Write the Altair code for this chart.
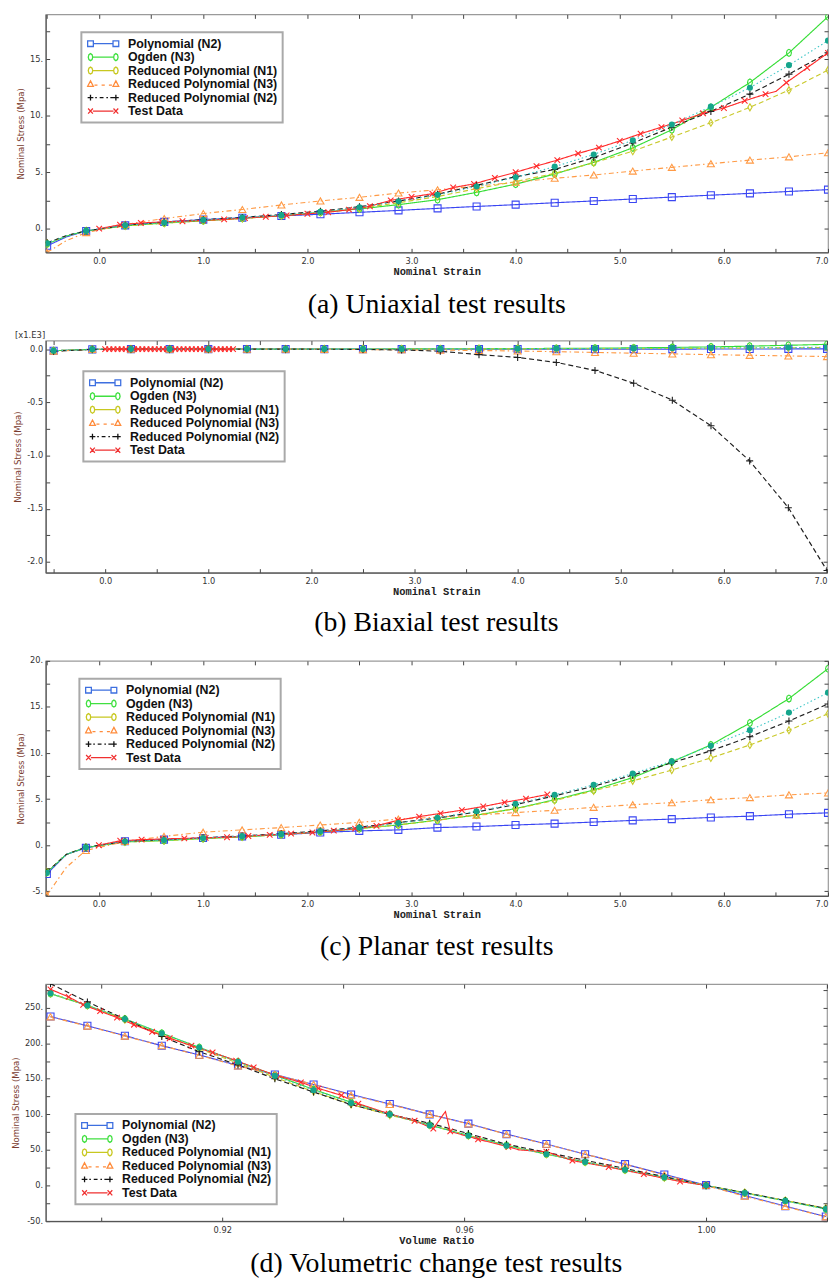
import altair as alt
import pandas as pd

SERIES = ["Polynomial (N2)", "Ogden (N3)", "Reduced Polynomial (N1)",
          "Reduced Polynomial (N3)", "Reduced Polynomial (N2)", "Test Data"]
TEAL_NAME = "Unlabelled fit"
B_NOTE = ["[x1.E3]"]

# ---------------- (a) Uniaxial ----------------
XA = [-0.5, -0.3125, -0.125, 0.25, 0.625, 1.0, 1.375, 1.75, 2.125, 2.5, 2.875,
      3.25, 3.625, 4.0, 4.375, 4.75, 5.125, 5.5, 5.875, 6.25, 6.625, 7.0]
MA = [1, 0, 1, 1, 1, 1, 1, 1, 1, 1, 1, 1, 1, 1, 1, 1, 1, 1, 1, 1, 1, 1]
A_POLY = [-1.52, -0.72, -0.2, 0.29, 0.6, 0.8, 0.97, 1.13, 1.28, 1.45, 1.62,
          1.8, 1.97, 2.13, 2.3, 2.46, 2.63, 2.8, 2.97, 3.13, 3.3, 3.46]
A_OGDEN = [-1.35, -0.65, -0.2, 0.25, 0.5, 0.7, 0.92, 1.15, 1.45, 1.75, 2.13,
           2.57, 3.22, 3.95, 4.85, 5.88, 7.17, 8.77, 10.76, 12.96, 15.59, 18.8]
A_RP1 = [-1.3, -0.62, -0.2, 0.25, 0.48, 0.7, 0.9, 1.15, 1.45, 1.8, 2.3,
         2.85, 3.55, 4.18, 4.9, 5.85, 6.87, 8.13, 9.39, 10.76, 12.28, 14.06]
A_RP3 = [-2.1, -1.05, -0.35, 0.38, 0.9, 1.34, 1.7, 2.1, 2.46, 2.78, 3.16,
         3.45, 3.77, 4.12, 4.47, 4.76, 5.11, 5.44, 5.76, 6.08, 6.37, 6.73]
A_RP2 = [-1.25, -0.6, -0.2, 0.32, 0.58, 0.8, 1.0, 1.25, 1.55, 1.95, 2.45,
         3.05, 3.85, 4.6, 5.25, 6.3, 7.6, 9.0, 10.4, 11.93, 13.7, 15.6]
A_TEAL = [-1.3, -0.62, -0.2, 0.3, 0.55, 0.78, 0.98, 1.2, 1.5, 1.9, 2.43,
          3.0, 3.74, 4.56, 5.5, 6.58, 7.83, 9.24, 10.82, 12.5, 14.5, 16.67]
TXA = [0.0, 0.2, 0.4, 0.6, 0.8, 1.0, 1.2, 1.4, 1.6, 1.8, 2.0, 2.2, 2.4, 2.6, 2.8,
       3.0, 3.2, 3.4, 3.6, 3.8, 4.0, 4.2, 4.4, 4.6, 4.8, 5.0, 5.2, 5.4, 5.6, 5.8,
       6.0, 6.2, 6.4, 6.5, 6.6, 6.8, 7.0]
TYA = [0.0, 0.35, 0.5, 0.6, 0.66, 0.74, 0.82, 0.94, 1.06, 1.17, 1.32, 1.46, 1.69,
       1.99, 2.51, 2.81, 3.1, 3.65, 3.97, 4.5, 5.0, 5.55, 6.08, 6.67, 7.19, 7.78,
       8.42, 9.0, 9.59, 10.23, 10.7, 11.34, 11.93, 12.17, 12.95, 14.27, 15.59]
TMA = [1, 1, 1, 1, 1, 1, 1, 1, 1, 1, 1, 1, 1, 1, 1, 1, 1, 1, 1, 1, 1, 1, 1, 1, 1,
       1, 1, 1, 1, 1, 1, 1, 1, 0, 1, 1, 1]

# ---------------- (b) Biaxial (x1.E3) ----------------
XB = [-0.5, -0.125, 0.25, 0.625, 1.0, 1.375, 1.75, 2.125, 2.5, 2.875,
      3.25, 3.625, 4.0, 4.375, 4.75, 5.125, 5.5, 5.875, 6.25, 6.625, 7.0]
MB = [1, 1, 1, 1, 1, 1, 1, 1, 1, 1, 1, 1, 1, 1, 1, 1, 1, 1, 1, 1, 1]
B_POLY = [-0.015, -0.002, 0.0, 0.0, 0.0, 0.0, 0.0, 0.0, 0.0, 0.0, 0.0,
          0.0, 0.0, 0.0, 0.0, 0.0, 0.0, 0.001, 0.001, 0.002, 0.002]
B_OGDEN = [-0.015, -0.002, 0.0, 0.0, 0.0, 0.0, 0.0, 0.001, 0.001, 0.002, 0.003,
           0.004, 0.005, 0.007, 0.009, 0.012, 0.016, 0.021, 0.028, 0.036, 0.045]
B_RP1 = [-0.015, -0.002, 0.0, 0.0, 0.0, 0.0, 0.0, 0.0, 0.0, 0.001, 0.001,
         0.002, 0.002, 0.003, 0.004, 0.005, 0.006, 0.008, 0.01, 0.012, 0.015]
B_RP3 = [-0.02, -0.003, 0.0, 0.0, 0.0, 0.0, 0.0, -0.002, -0.004, -0.006, -0.009,
         -0.013, -0.018, -0.024, -0.031, -0.038, -0.045, -0.052, -0.058, -0.064, -0.07]
B_RP2 = [-0.02, -0.002, 0.0, 0.0, 0.0, 0.0, 0.0, -0.001, -0.003, -0.008, -0.02,
         -0.052, -0.078, -0.125, -0.2, -0.32, -0.48, -0.72, -1.05, -1.49, -2.08]
B_TEAL = [-0.015, -0.002, 0.0, 0.0, 0.0, 0.0, 0.0, 0.0, 0.001, 0.001, 0.002,
          0.003, 0.004, 0.005, 0.006, 0.007, 0.009, 0.011, 0.013, 0.015, 0.018]
TXB = [0.0, 0.04, 0.08, 0.12, 0.16, 0.2, 0.24, 0.28, 0.32, 0.36, 0.4, 0.44, 0.48,
       0.52, 0.56, 0.6, 0.64, 0.68, 0.72, 0.76, 0.8, 0.84, 0.88, 0.92, 0.96, 1.0,
       1.04, 1.08, 1.12, 1.16, 1.2, 1.24]
TYB = [0.0, 0.0, 0.0, 0.0, 0.0, 0.0, 0.0, 0.0, 0.0, 0.0, 0.0, 0.0, 0.0, 0.0, 0.0,
       0.0, 0.0, 0.0, 0.0, 0.0, 0.0, 0.0, 0.0, 0.0, 0.0, 0.0, 0.0, 0.0, 0.0, 0.0,
       0.0, 0.0]
TMB = [1, 1, 1, 1, 1, 1, 1, 1, 1, 1, 1, 1, 1, 1, 1, 1, 1, 1, 1, 1, 1, 1, 1, 1, 1,
       1, 1, 1, 1, 1, 1, 1]

# ---------------- (c) Planar ----------------
XC = XA
MC = MA
C_POLY = [-3.13, -1.0, -0.29, 0.43, 0.6, 0.78, 0.96, 1.13, 1.38, 1.55, 1.66,
          1.91, 2.02, 2.19, 2.34, 2.51, 2.69, 2.83, 3.01, 3.15, 3.36, 3.51]
C_OGDEN = [-2.95, -1.0, -0.25, 0.35, 0.5, 0.72, 0.9, 1.15, 1.45, 1.8, 2.2,
           2.72, 3.26, 3.97, 4.93, 5.99, 7.34, 9.04, 10.88, 13.26, 15.91, 19.15]
C_RP1 = [-2.9, -1.0, -0.22, 0.35, 0.5, 0.72, 0.9, 1.15, 1.45, 1.8, 2.2,
         2.7, 3.3, 3.95, 4.85, 5.9, 6.98, 8.15, 9.47, 10.88, 12.48, 14.26]
C_RP3 = [-5.43, -2.4, -0.57, 0.4, 0.96, 1.41, 1.66, 1.91, 2.19, 2.48, 2.83,
         3.05, 3.26, 3.54, 3.79, 4.11, 4.39, 4.61, 4.93, 5.17, 5.46, 5.67]
C_RP2 = [-2.9, -1.0, -0.22, 0.42, 0.6, 0.8, 1.0, 1.25, 1.55, 1.95, 2.45,
         2.95, 3.6, 4.4, 5.35, 6.4, 7.6, 8.94, 10.24, 11.77, 13.47, 15.32]
C_TEAL = [-3.0, -1.0, -0.25, 0.4, 0.55, 0.78, 0.98, 1.2, 1.5, 1.9, 2.4,
          2.98, 3.68, 4.5, 5.46, 6.55, 7.77, 9.11, 10.78, 12.48, 14.39, 16.55]
TXC = [0.0, 0.205, 0.41, 0.615, 0.82, 1.025, 1.23, 1.435, 1.64, 1.845, 2.05,
       2.255, 2.46, 2.665, 2.87, 3.075, 3.28, 3.485, 3.69, 3.895, 4.1, 4.305]
TYC = [0.0, 0.48, 0.6, 0.68, 0.74, 0.8, 0.86, 1.0, 1.12, 1.25, 1.38,
       1.58, 1.8, 2.1, 2.7, 3.1, 3.45, 3.8, 4.2, 4.65, 5.05, 5.5]
TMC = [1, 1, 1, 1, 1, 1, 1, 1, 1, 1, 1, 1, 1, 1, 1, 1, 1, 1, 1, 1, 1, 1]

# ---------------- (d) Volumetric ----------------
XD = [0.8916, 0.8977, 0.9039, 0.9100, 0.9162, 0.9226, 0.9287, 0.9351, 0.9413,
      0.9477, 0.9543, 0.9607, 0.9670, 0.9736, 0.9800, 0.9866, 0.9931, 1.0,
      1.0064, 1.0131, 1.0198]
MD = [1, 1, 1, 1, 1, 1, 1, 1, 1, 1, 1, 1, 1, 1, 1, 1, 1, 1, 1, 1, 1]
D_POLY = [237.4, 224.5, 210.5, 196.5, 183.5, 168.6, 156.0, 142.0, 128.0, 114.5,
          100.0, 87.0, 72.2, 58.3, 44.0, 30.0, 15.5, 0.5, -14.0, -29.0, -43.6]
D_OGDEN = [269.5, 253.0, 234.0, 214.0, 194.0, 174.0, 155.0, 135.0, 117.0, 100.0,
           85.0, 70.5, 56.5, 44.0, 33.0, 22.0, 11.5, 0.0, -10.5, -21.5, -33.0]
D_RP1 = [270.0, 253.0, 233.0, 212.0, 192.0, 172.0, 152.0, 132.0, 114.0, 99.0,
         85.0, 70.0, 56.0, 44.0, 33.0, 22.0, 11.0, 0.0, -10.0, -21.0, -32.0]
D_RP3 = [237.0, 224.0, 210.0, 196.5, 183.0, 168.0, 156.0, 142.0, 127.0, 114.0,
         100.0, 86.5, 72.0, 58.0, 44.0, 30.0, 15.0, 0.0, -15.0, -29.5, -44.0]
D_RP2 = [283.5, 258.0, 234.0, 209.5, 188.0, 169.5, 150.0, 131.3, 113.7, 100.0,
         87.5, 73.0, 58.0, 46.5, 35.5, 24.0, 12.5, 0.0, -10.0, -21.0, -32.0]
D_TEAL = [270.0, 253.0, 234.0, 214.0, 194.0, 174.0, 154.0, 134.0, 116.0, 100.0,
          84.5, 70.0, 56.0, 44.0, 33.0, 22.0, 11.5, 0.0, -10.5, -21.5, -33.0]
TXD = [0.8916, 0.8946, 0.8970, 0.8998, 0.9026, 0.9054, 0.9084, 0.9113, 0.9149,
       0.9184, 0.9223, 0.9252, 0.9289, 0.9330, 0.9359, 0.9397, 0.9425, 0.9475,
       0.9518, 0.9549, 0.9569, 0.9577, 0.9623, 0.9673, 0.9691, 0.9736, 0.9779,
       0.9839, 0.9897, 0.9957, 1.0]
TYD = [275.7, 265.0, 254.0, 245.0, 236.0, 226.0, 216.0, 207.0, 196.5, 187.0,
       175.5, 166.0, 154.6, 145.0, 136.5, 126.7, 115.0, 101.0, 91.0, 80.0,
       104.0, 76.0, 65.0, 54.5, 50.0, 47.5, 35.0, 26.0, 16.0, 5.7, 0.0]
TMD = [1, 1, 1, 1, 1, 1, 1, 1, 1, 1, 1, 1, 1, 1, 1, 1, 1, 1, 1, 1, 0, 1, 1, 1, 0,
       1, 1, 1, 1, 1, 1]

# ---------------- ticks ----------------
STRAIN_TICKS = [-0.5, 0.0, 0.5, 1.0, 1.5, 2.0, 2.5, 3.0, 3.5, 4.0, 4.5, 5.0,
                5.5, 6.0, 6.5, 7.0]
A_YTICKS = [0, 2.5, 5, 7.5, 10, 12.5, 15, 17.5]
B_YTICKS = [0.0, -0.25, -0.5, -0.75, -1.0, -1.25, -1.5, -1.75, -2.0]
C_YTICKS = [-5, -2.5, 0, 2.5, 5, 7.5, 10, 12.5, 15, 17.5, 20]
D_YTICKS = [-50, -25, 0, 25, 50, 75, 100, 125, 150, 175, 200, 225, 250, 275]
D_XTICKS = [0.90, 0.92, 0.94, 0.96, 0.98, 1.00, 1.02]

# ---------------- styles ----------------
LINE_COLORS = ["#3a46f2", "#35dd35", "#c9c92a", "#ff9a45", "#1e1e1e", "#ff2a2a"]
LEGEND_COLORS = ["#3d6fe0", "#40e040", "#c8c820", "#ff8c3c", "#111111", "#f03030"]
DASHES = [[1, 0], [1, 0], [5, 3], [5, 3, 1.5, 3], [5, 3], [1, 0]]
TEAL_LINE = "#3cc6c6"
TEAL_FILL = "#15a58c"

ELL = "M0.7,0L0.5,0.7L0,1L-0.5,0.7L-0.7,0L-0.5,-0.7L0,-1L0.5,-0.7Z"
PLOT_SHAPES = ["square", ELL, "M0,-1L0.6,0L0,1L-0.6,0Z", "triangle-up",
               "M-1,0H1M0,-1V1", "M-0.8,-0.8L0.8,0.8M-0.8,0.8L0.8,-0.8"]

G_SQ = "M-0.98,-0.18H-0.62V0.18H-0.98ZM-0.62,0H0.62M0.62,-0.18H0.98V0.18H0.62Z"
G_EL = ("M-0.66,0L-0.7,0.155L-0.8,0.22L-0.9,0.155L-0.94,0L-0.9,-0.155L-0.8,-0.22L-0.7,-0.155Z"
        "M-0.66,0H0.66"
        "M0.94,0L0.9,0.155L0.8,0.22L0.7,0.155L0.66,0L0.7,-0.155L0.8,-0.22L0.9,-0.155Z")
G_TR = ("M-0.8,-0.2L-0.62,0.14H-0.98ZM0.8,-0.2L0.98,0.14H0.62Z"
        "M-0.55,0.06H-0.36M-0.1,0.06H0.1M0.36,0.06H0.55")
G_PL = ("M-0.98,0H-0.62M-0.8,-0.18V0.18M0.62,0H0.98M0.8,-0.18V0.18"
        "M-0.5,0H-0.4M-0.22,0H0.02M0.2,0H0.3M0.45,0H0.62")
G_X = ("M-0.95,-0.16L-0.65,0.16M-0.95,0.16L-0.65,-0.16M-0.65,0H0.65"
       "M0.65,-0.16L0.95,0.16M0.65,0.16L0.95,-0.16")
LEGEND_GLYPHS = [G_SQ, G_EL, G_EL, G_TR, G_PL, G_X]

MINUS = "\u2212"
X_FMT = f"round(datum.value*2) % 2 == 0 ? replace(format(datum.value, '.1f'), '{MINUS}', '-') : ''"
Y_FMT_A = f"round(datum.value*2) % 10 == 0 ? replace(format(datum.value, 'd'), '{MINUS}', '-') + '.' : ''"
Y_FMT_B = f"round(datum.value*4) % 2 == 0 ? replace(format(datum.value, '.1f'), '{MINUS}', '-') : ''"
Y_FMT_D = f"round(datum.value) % 50 == 0 ? replace(format(datum.value, 'd'), '{MINUS}', '-') + '.' : ''"
X_FMT_D = "round(datum.value*100) % 4 == 0 ? format(datum.value, '.2f') : ''"


def long_df(x, flags, named):
    frames = [pd.DataFrame({"x": x, "y": ys, "s": name, "m": flags}) for name, ys in named]
    return pd.concat(frames, ignore_index=True)


def make_legend(lx, ly):
    return alt.Legend(orient="none", legendX=lx, legendY=ly, title=None,
                      fillColor="white", strokeColor="#a9a9a9", padding=5,
                      labelFont="Liberation Sans", labelFontSize=12.5,
                      labelFontWeight="bold", labelColor="#111", labelOffset=8,
                      labelLimit=0, symbolSize=1024, symbolStrokeWidth=1.3,
                      symbolOpacity=1, clipHeight=13, rowPadding=0.6)


def caption_title(text, offset):
    return alt.TitleParams(text=text, orient="bottom", anchor="middle",
                           font="Liberation Serif", fontSize=28, fontWeight="normal",
                           color="black", offset=offset)


def panel(x, flags, models, teal, tx, ty, tflags, xdom, ydom, xticks, xfmt,
          yticks, yfmt, xtitle, w, h, leg, caption, offset, note=False):
    mdf = long_df(x, flags, list(zip(SERIES[:5], models)))
    tdf = long_df(tx, tflags, [(SERIES[5], ty)])
    df = pd.concat([mdf, tdf], ignore_index=True)
    teal_df = long_df(x, flags, [(TEAL_NAME, teal)])

    xs = alt.Scale(domain=xdom, nice=False, zero=False)
    ys = alt.Scale(domain=ydom, nice=False, zero=False)
    xaxis = alt.Axis(values=xticks, labelExpr=xfmt, grid=True,
                     gridDash=[4, h - 8, 4, 5000], gridColor="#444", gridWidth=1,
                     gridOpacity=1, ticks=False, domain=True, domainColor="#555",
                     domainWidth=1.2, labelFont="DejaVu Sans", labelFontSize=8.3,
                     labelColor="#333", labelPadding=4, labelFlush=True,
                     labelOverlap=False, title=xtitle, titleFont="Liberation Mono",
                     titleFontWeight="bold", titleFontSize=10.5, titleColor="#222",
                     titlePadding=2)
    yaxis = alt.Axis(values=yticks, labelExpr=yfmt, grid=True,
                     gridDash=[4, w - 8, 4, 5000], gridColor="#444", gridWidth=1,
                     gridOpacity=1, ticks=False, domain=True, domainColor="#555",
                     domainWidth=1.2, labelFont="DejaVu Sans", labelFontSize=8.3,
                     labelColor="#333", labelPadding=3, labelOverlap=False,
                     title="Nominal Stress (Mpa)", titleFont="DejaVu Sans",
                     titleFontSize=8.6, titleFontWeight="normal",
                     titleColor="#7a3b2e", titlePadding=4)
    X = alt.X("x:Q", scale=xs, axis=xaxis)
    Y = alt.Y("y:Q", scale=ys, axis=yaxis)

    base = alt.Chart(df)
    tbase = alt.Chart(teal_df)
    lines = base.mark_line(strokeWidth=1.15, clip=True).encode(
        X, Y,
        color=alt.Color("s:N", scale=alt.Scale(domain=SERIES, range=LINE_COLORS), legend=None),
        strokeDash=alt.StrokeDash("s:N", scale=alt.Scale(domain=SERIES, range=DASHES), legend=None),
        detail="s:N")
    tline = tbase.mark_line(strokeWidth=1.1, color=TEAL_LINE, strokeDash=[1.5, 2.5],
                            clip=True).encode(X, Y)
    pts = base.transform_filter("datum.m == 1").mark_point(
        filled=False, size=50, strokeWidth=1.1, opacity=1, clip=True).encode(
        X, Y,
        color=alt.Color("s:N", scale=alt.Scale(domain=SERIES, range=LINE_COLORS), legend=None),
        shape=alt.Shape("s:N", scale=alt.Scale(domain=SERIES, range=PLOT_SHAPES), legend=None))
    tpts = tbase.transform_filter("datum.m == 1").mark_point(
        filled=True, size=38, color=TEAL_FILL, opacity=1, clip=True).encode(X, Y)
    lg = make_legend(*leg)
    legl = base.mark_point(opacity=0, filled=False, clip=True).encode(
        X, Y,
        color=alt.Color("s:N", scale=alt.Scale(domain=SERIES, range=LEGEND_COLORS), legend=lg),
        shape=alt.Shape("s:N", scale=alt.Scale(domain=SERIES, range=LEGEND_GLYPHS), legend=lg))
    layers = [lines, tline, pts, tpts, legl]
    if note:
        layers.append(alt.Chart(pd.DataFrame({"t": B_NOTE})).mark_text(
            align="left", baseline="middle", font="DejaVu Sans", fontSize=8.5,
            color="#333").encode(x=alt.value(-31), y=alt.value(-6), text="t:N"))

    layer = alt.layer(*layers).resolve_scale(color="independent", shape="independent")
    return layer.properties(width=w, height=h, title=caption_title(caption, offset))


pa = panel(XA, MA, [A_POLY, A_OGDEN, A_RP1, A_RP3, A_RP2], A_TEAL, TXA, TYA, TMA,
           [-0.514, 7.0], [-2.1, 19.0], STRAIN_TICKS, X_FMT, A_YTICKS, Y_FMT_A,
           "Nominal Strain", 789, 240, (36, 18), "(a) Uniaxial test results", 14.2)
pb = panel(XB, MB, [B_POLY, B_OGDEN, B_RP1, B_RP3, B_RP2], B_TEAL, TXB, TYB, TMB,
           [-0.577, 7.0], [-2.1, 0.08], STRAIN_TICKS, X_FMT, B_YTICKS, Y_FMT_B,
           "Nominal Strain", 788, 234, (38, 31), "(b) Biaxial test results", 11.7,
           note=True)
pc = panel(XC, MC, [C_POLY, C_OGDEN, C_RP1, C_RP3, C_RP2], C_TEAL, TXC, TYC, TMC,
           [-0.511, 7.0], [-5.5, 20.0], STRAIN_TICKS, X_FMT, C_YTICKS, Y_FMT_A,
           "Nominal Strain", 789, 237, (34, 18), "(c) Planar test results", 12.7)
pd_ = panel(XD, MD, [D_POLY, D_OGDEN, D_RP1, D_RP3, D_RP2], D_TEAL, TXD, TYD, TMD,
            [0.8908, 1.02], [-50, 283], D_XTICKS, X_FMT_D, D_YTICKS, Y_FMT_D,
            "Volume Ratio", 788, 239, (30, 131), "(d) Volumetric change test results", 4.7)

chart = alt.vconcat(pa, pb, pc, pd_, spacing=89, bounds="flush").properties(
    padding={"left": 2, "top": 0, "right": 0, "bottom": 0}, background="white"
).configure_view(stroke="#9a9a9a", strokeWidth=1.2).configure_legend(strokeWidth=2)

chart.save("out.html", embed_options={"renderer": "svg", "actions": False})
